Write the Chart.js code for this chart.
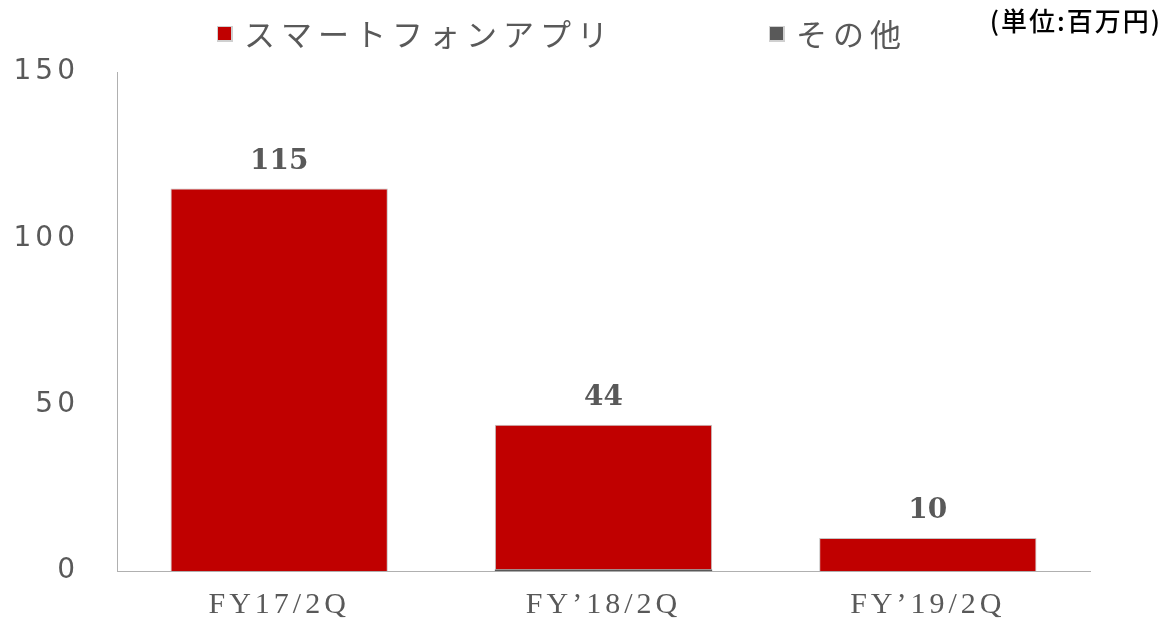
<!DOCTYPE html>
<html lang="ja">
<head>
<meta charset="utf-8">
<script src="https://cdn.jsdelivr.net/npm/chart.js@4/dist/chart.umd.min.js"></script>
<style>
  html, body { margin: 0; padding: 0; background: #fff; overflow: hidden; }
  #wrap { width: 1167px; height: 618px; }
  canvas { display: block; }
</style>
</head>
<body>
<div id="wrap"><canvas id="salesChart" width="1167" height="618"></canvas></div>
<script>
// データ
const categories = ['FY17/2Q', 'FY\u201918/2Q', 'FY\u201919/2Q'];
const smartphoneApp = [115, 43.5, 10];
const others = [0, 0.5, 0];
const yTicks = [0, 50, 100, 150];
const seriesNames = ['スマートフォンアプリ', 'その他'];
const unitLabel = '(単位:百万円)';

const RED = '#C00000';
const GRAY = '#595959';
const TEXT = '#595959';

// 凡例と単位の描画
const legendPlugin = {
    id: 'customLegend',
    afterDraw(chart) {
        const ctx = chart.ctx;
        ctx.save();
        ctx.textBaseline = 'middle';
        ctx.font = '31px "Noto Sans CJK JP"';
        ctx.letterSpacing = '6px';
        const items = [
            { x: 218, color: RED, text: seriesNames[0] },
            { x: 770, color: GRAY, text: seriesNames[1] }
        ];
        items.forEach(it => {
            ctx.fillStyle = '#d0d0d0';
            ctx.fillRect(it.x - 1, 26, 16, 16);
            ctx.fillStyle = it.color;
            ctx.fillRect(it.x, 27, 13, 13);
            ctx.fillStyle = TEXT;
            ctx.fillText(it.text, it.x + 26, 34);
        });
        ctx.font = '500 26px "Noto Sans CJK JP"';
        ctx.letterSpacing = '2px';
        ctx.fillStyle = '#000';
        ctx.textAlign = 'right';
        ctx.fillText(unitLabel, 1162, 21);
        ctx.restore();
    }
};

// 合計値ラベル
const totalLabels = {
    id: 'totalLabels',
    afterDatasetsDraw(chart) {
        const ctx = chart.ctx;
        ctx.save();
        ctx.letterSpacing = '0px';
        ctx.font = 'bold 28px "DejaVu Serif"';
        ctx.fillStyle = TEXT;
        ctx.textAlign = 'center';
        ctx.textBaseline = 'middle';
        categories.forEach((c, i) => {
            const total = smartphoneApp[i] + others[i];
            let top = Infinity, x = 0;
            chart.data.datasets.forEach((ds, d) => {
                const el = chart.getDatasetMeta(d).data[i];
                if (el.y < top) { top = el.y; x = el.x; }
            });
            ctx.fillText(Math.round(total), x, top - 27);
        });
        ctx.restore();
    }
};

// 文字間隔（軸ラベル）
const spacing = {
    id: 'spacing',
    beforeDraw(chart) { chart.ctx.letterSpacing = '4px'; }
};

new Chart(document.getElementById('salesChart').getContext('2d'), {
    type: 'bar',
    data: {
        labels: categories,
        datasets: [
            {
                label: seriesNames[1],
                data: others,
                backgroundColor: GRAY,
                borderWidth: 0,
                barPercentage: 0.67,
                categoryPercentage: 1
            },
            {
                label: seriesNames[0],
                data: smartphoneApp,
                backgroundColor: RED,
                borderColor: '#c4c4c4',
                borderWidth: 1,
                barPercentage: 0.67,
                categoryPercentage: 1
            }
        ]
    },
    options: {
        responsive: false,
        animation: false,
        layout: { padding: { top: 72, right: 77, bottom: 0, left: 0 } },
        plugins: {
            legend: { display: false },
            tooltip: { enabled: false }
        },
        scales: {
            x: {
                stacked: true,
                grid: { display: false },
                border: { display: true, color: '#b0b0b0', width: 1, dash: [2, 2] },
                ticks: {
                    color: TEXT,
                    font: { family: '"Liberation Serif"', size: 30 },
                    padding: 8
                },
                afterFit(scale) { scale.height = 46; }
            },
            y: {
                stacked: true,
                min: 0,
                max: 150,
                afterBuildTicks(scale) { scale.ticks = yTicks.map(v => ({ value: v })); },
                grid: { display: false },
                border: { display: true, color: '#b0b0b0', width: 1, dash: [2, 2] },
                ticks: {
                    color: TEXT,
                    font: { family: '"DejaVu Sans"', size: 28 },
                    padding: 30
                },
                afterFit(scale) { scale.width = 117; }
            }
        }
    },
    plugins: [spacing, totalLabels, legendPlugin]
});
</script>
</body>
</html>
